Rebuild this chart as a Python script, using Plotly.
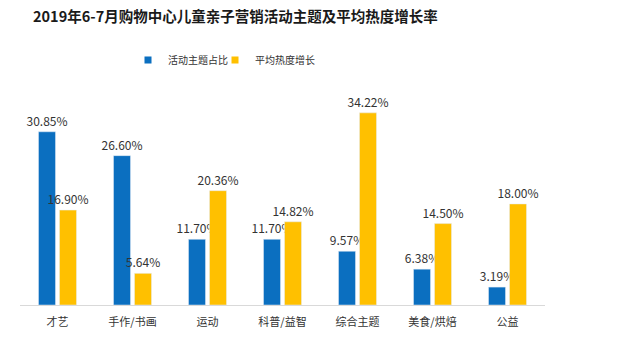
import plotly.graph_objects as go

categories = ["才艺", "手作/书画", "运动", "科普/益智", "综合主题", "美食/烘焙", "公益"]
share = [30.85, 26.60, 11.70, 11.70, 9.57, 6.38, 3.19]
heat = [16.90, 5.64, 20.36, 14.82, 34.22, 14.50, 18.00]
series_names = ["活动主题占比", "平均热度增长"]

BLUE = "#0B6FC0"
YELLOW = "#FFC000"
FONT = "Noto Sans CJK SC"

fig = go.Figure()
for vals, name, col in [(share, series_names[0], BLUE), (heat, series_names[1], YELLOW)]:
    fig.add_trace(go.Bar(
        x=categories, y=vals, name=name, marker_color=col, showlegend=False,
        text=[f"{v:.2f}%" for v in vals], textposition="outside",
        constraintext="none",
        textfont=dict(size=12, color="#333333", family=FONT),
        cliponaxis=False,
    ))
# legend-only traces with small square markers, each in its own legend box
for name, col, lg in [(series_names[0], BLUE, "legend"), (series_names[1], YELLOW, "legend2")]:
    fig.add_trace(go.Scatter(
        x=[None], y=[None], mode="markers", name=name, legend=lg,
        marker=dict(symbol="square", size=7, color=col),
    ))

legend_style = dict(orientation="h", xanchor="left", y=1 + 35/210, yanchor="middle",
                    font=dict(size=10, color="#333333", family=FONT),
                    itemwidth=30, bgcolor="rgba(0,0,0,0)")

fig.update_layout(
    width=640, height=355,
    margin=dict(l=20, r=95, t=95, b=50),
    paper_bgcolor="white", plot_bgcolor="white",
    barmode="group", bargap=0.44, bargroupgap=0.19,
    font=dict(family=FONT, color="#333333"),
    title=dict(text="<b>2019年6-7月购物中心儿童亲子营销活动主题及平均热度增长率</b>",
               x=33/640, xanchor="left", y=1-17/355, yanchor="middle",
               font=dict(size=14.5, color="#1a1a1a", family=FONT)),
    legend=dict(x=(128-20)/525, **legend_style),
    legend2=dict(x=(215-20)/525, **legend_style),
    xaxis=dict(showline=True, linecolor="#D9D9D9", linewidth=1,
               ticks="outside", ticklen=7, tickcolor="rgba(0,0,0,0)",
               tickfont=dict(size=11, color="#333333", family=FONT), showgrid=False),
    yaxis=dict(range=[0, 37.4], visible=False, showgrid=False),
)
fig.write_html("out.html", post_script="document.body.style.margin='0';",
               config={"displayModeBar": False})
